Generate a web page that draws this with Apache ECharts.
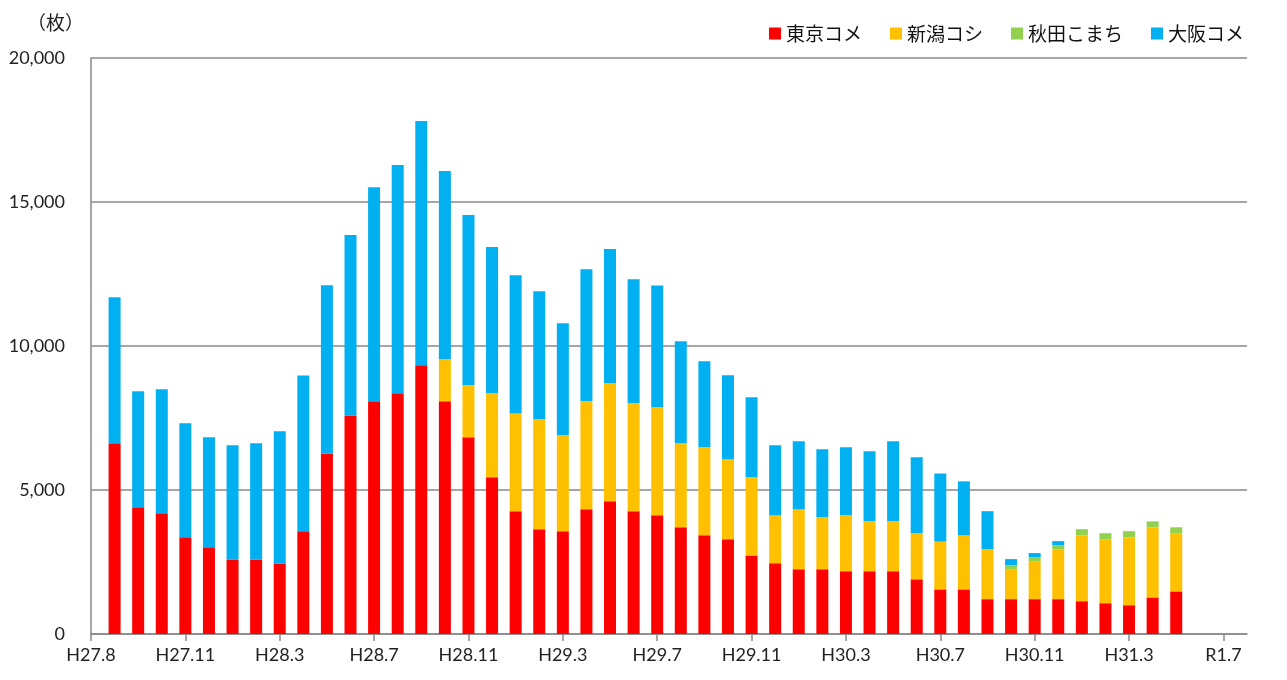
<!DOCTYPE html>
<html>
<head>
<meta charset="utf-8">
<script src="https://cdn.jsdelivr.net/npm/echarts@6/dist/echarts.min.js"></script>
<style>
  html, body { margin: 0; padding: 0; background: #fff; }
  #chart { width: 1287px; height: 680px; }
</style>
</head>
<body>
<div id="chart"></div>
<script>
// 月ごとの棒（H27.8〜H31.5）
const months = [
  'H27.8','H27.9','H27.10','H27.11','H27.12','H28.1','H28.2','H28.3','H28.4','H28.5','H28.6','H28.7',
  'H28.8','H28.9','H28.10','H28.11','H28.12','H29.1','H29.2','H29.3','H29.4','H29.5','H29.6','H29.7',
  'H29.8','H29.9','H29.10','H29.11','H29.12','H30.1','H30.2','H30.3','H30.4','H30.5','H30.6','H30.7',
  'H30.8','H30.9','H30.10','H30.11','H30.12','H31.1','H31.2','H31.3','H31.4','H31.5'
];
// 軸の目盛りラベル（4か月ごと）
const tickLabels = ['H27.8','H27.11','H28.3','H28.7','H28.11','H29.3','H29.7','H29.11','H30.3','H30.7','H30.11','H31.3','R1.7'];

const tokyo = [
  6620, 4400, 4190, 3360, 3010, 2590, 2590, 2450, 3570, 6270, 7590, 8080,
  8360, 9330, 8080, 6830, 5440, 4260, 3640, 3570, 4330, 4610, 4260, 4120,
  3710, 3430, 3290, 2730, 2460, 2250, 2250, 2180, 2180, 2180, 1900, 1550,
  1550, 1210, 1210, 1210, 1210, 1140, 1070, 1000, 1270, 1480
];
const niigata = [
  0, 0, 0, 0, 0, 0, 0, 0, 0, 0, 0, 0,
  0, 0, 1460, 1805, 2920, 3400, 3820, 3330, 3750, 4100, 3750, 3750,
  2915, 3055, 2780, 2710, 1665, 2085, 1805, 1945, 1735, 1735, 1600, 1665,
  1875, 1735, 1040, 1320, 1735, 2290, 2220, 2360, 2430, 2015
];
const akita = [
  0, 0, 0, 0, 0, 0, 0, 0, 0, 0, 0, 0,
  0, 0, 0, 0, 0, 0, 0, 0, 0, 0, 0, 0,
  0, 0, 0, 0, 0, 0, 0, 0, 0, 0, 0, 0,
  0, 0, 140, 140, 140, 210, 210, 210, 210, 210
];
const osaka = [
  5070, 4030, 4305, 3955, 3820, 3960, 4030, 4590, 5410, 5840, 6265, 7430,
  7925, 8480, 6540, 5915, 5075, 4795, 4445, 3890, 4585, 4655, 4305, 4235,
  3540, 2985, 2915, 2780, 2430, 2360, 2360, 2360, 2430, 2780, 2640, 2360,
  1875, 1320, 210, 140, 140, 0, 0, 0, 0, 0
];

// 目盛りは棒と棒の間ではなく棒の中心に来るので、前後に空きスロットを足す
const slots = ['H27.7'].concat(months, ['H31.6', 'H31.7', 'H31.8']);
const pad = (arr) => [null].concat(arr, [null, null, null]);

const chart = echarts.init(document.getElementById('chart'));
const jp = '"Noto Sans CJK JP", sans-serif';
const num = 'Lato, "Noto Sans", sans-serif';
const gray = '#898989';

const option = {
  animation: false,
  title: {
    text: '（枚）',
    left: 22,
    top: 8,
    textStyle: { fontFamily: jp, fontSize: 19, fontWeight: 'normal', color: '#222' }
  },
  legend: {
    right: 38,
    top: 19,
    icon: 'rect',
    itemWidth: 12,
    itemHeight: 12,
    itemGap: 28,
    textStyle: { fontFamily: jp, fontSize: 19, color: '#111' },
    data: ['東京コメ', '新潟コシ', '秋田こまち', '大阪コメ']
  },
  grid: { left: 91, right: 40, top: 58, bottom: 46 },
  xAxis: {
    type: 'category',
    data: slots,
    boundaryGap: false,
    axisLine: { lineStyle: { color: gray, width: 1.5 } },
    axisTick: { interval: 3, length: 7, lineStyle: { color: gray, width: 1.5 } },
    axisLabel: {
      interval: 3,
      margin: 12,
      fontFamily: num,
      fontSize: 18,
      color: '#222',
      formatter: (v, i) => tickLabels[i / 4] || ''
    },
    splitLine: { show: false }
  },
  yAxis: {
    type: 'value',
    min: 0,
    max: 20000,
    interval: 5000,
    axisLine: { show: true, lineStyle: { color: gray, width: 1.5 } },
    axisTick: { show: false },
    axisLabel: {
      margin: 26,
      fontFamily: num,
      fontSize: 18,
      color: '#222',
      formatter: (v) => v.toLocaleString('en-US')
    },
    splitLine: { lineStyle: { color: gray, width: 1.5 } }
  },
  series: [
    { name: '東京コメ', type: 'bar', stack: 'all', barWidth: 12, data: pad(tokyo), itemStyle: { color: '#FF0000' } },
    { name: '新潟コシ', type: 'bar', stack: 'all', barWidth: 12, data: pad(niigata), itemStyle: { color: '#FFC000' } },
    { name: '秋田こまち', type: 'bar', stack: 'all', barWidth: 12, data: pad(akita), itemStyle: { color: '#92D050' } },
    { name: '大阪コメ', type: 'bar', stack: 'all', barWidth: 12, data: pad(osaka), itemStyle: { color: '#00B0F0' } }
  ]
};
chart.setOption(option);
</script>
</body>
</html>
